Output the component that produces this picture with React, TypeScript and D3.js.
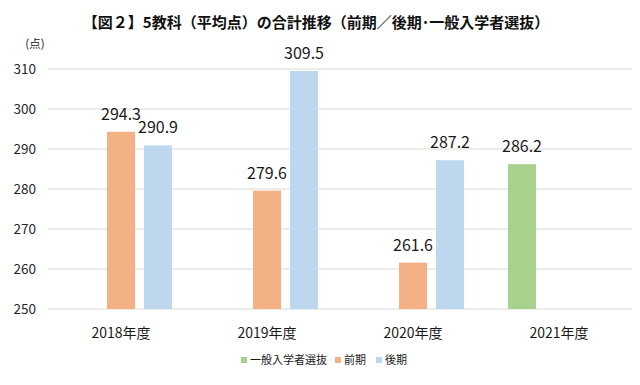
import React from "react";
import * as d3 from "d3";

const categories = ["2018年度", "2019年度", "2020年度", "2021年度"];
const seriesNames = ["一般入学者選抜", "前期", "後期"];
const ippanValues: (number | null)[] = [null, null, null, 286.2];
const zenkiValues: (number | null)[] = [294.3, 279.6, 261.6, null];
const kokiValues: (number | null)[] = [290.9, 309.5, 287.2, null];
const yTicks = [250, 260, 270, 280, 290, 300, 310];
const seriesColors = ["#A9D18E", "#F4B183", "#BDD7EE"];

const W = 640;
const H = 385;
const FONT = "'Noto Sans CJK JP', 'Noto Sans', sans-serif";

export default function App() {
  const seriesValues = [ippanValues, zenkiValues, kokiValues];
  const x0 = d3.scaleBand<string>().domain(categories).range([48, 632]).padding(0);
  const x1 = d3
    .scaleBand<string>()
    .domain(seriesNames)
    .range([-55.5, 55.5])
    .paddingInner(9 / 37)
    .paddingOuter(9 / 74);
  const y = d3.scaleLinear().domain([250, 310]).range([309, 69]);

  return (
    <svg
      width={W}
      height={H}
      style={{ position: "absolute", left: 0, top: 0, background: "#fff" }}
      fontFamily={FONT}
    >
      <rect x={0} y={0} width={W} height={H} fill="#fff" />
      <text x={316} y={28} textAnchor="middle" fontSize={15} fontWeight="bold" fill="#111">
        【図２】5教科（平均点）の合計推移（前期／後期･一般入学者選抜）
      </text>
      <text x={35} y={48} textAnchor="middle" fontSize={11.5} fill="#262626">
        (点)
      </text>
      {yTicks.map((t) => (
        <g key={t}>
          <line x1={48} x2={632} y1={y(t)} y2={y(t)} stroke="#D9D9D9" strokeWidth={1} />
          <text x={36} y={y(t)} dy="0.35em" textAnchor="end" fontSize={13.5} fill="#262626">
            {t}
          </text>
        </g>
      ))}
      {categories.map((c, ci) => {
        const cx = (x0(c) as number) + x0.bandwidth() / 2;
        return (
          <g key={c}>
            {seriesNames.map((s, si) => {
              const v = seriesValues[si][ci];
              if (v == null) return null;
              const bx = cx + (x1(s) as number);
              return (
                <g key={s}>
                  <rect
                    x={bx}
                    y={y(v)}
                    width={x1.bandwidth()}
                    height={y(250) - y(v)}
                    fill={seriesColors[si]}
                  />
                  <text
                    x={bx + x1.bandwidth() / 2}
                    y={y(v) - 12}
                    textAnchor="middle"
                    fontSize={16}
                    fill="#1a1a1a"
                  >
                    {v.toFixed(1)}
                  </text>
                </g>
              );
            })}
            <text x={cx} y={338} textAnchor="middle" fontSize={14} fill="#1a1a1a">
              {c}
            </text>
          </g>
        );
      })}
      {(() => {
        const items = [
          { name: seriesNames[0], x: 241 },
          { name: seriesNames[1], x: 335 },
          { name: seriesNames[2], x: 376 },
        ];
        return items.map((it, i) => (
          <g key={it.name}>
            <rect x={it.x} y={357} width={6} height={6} fill={seriesColors[i]} />
            <text x={it.x + 9} y={360} dy="0.35em" fontSize={11} fill="#1a1a1a">
              {it.name}
            </text>
          </g>
        ));
      })()}
    </svg>
  );
}
